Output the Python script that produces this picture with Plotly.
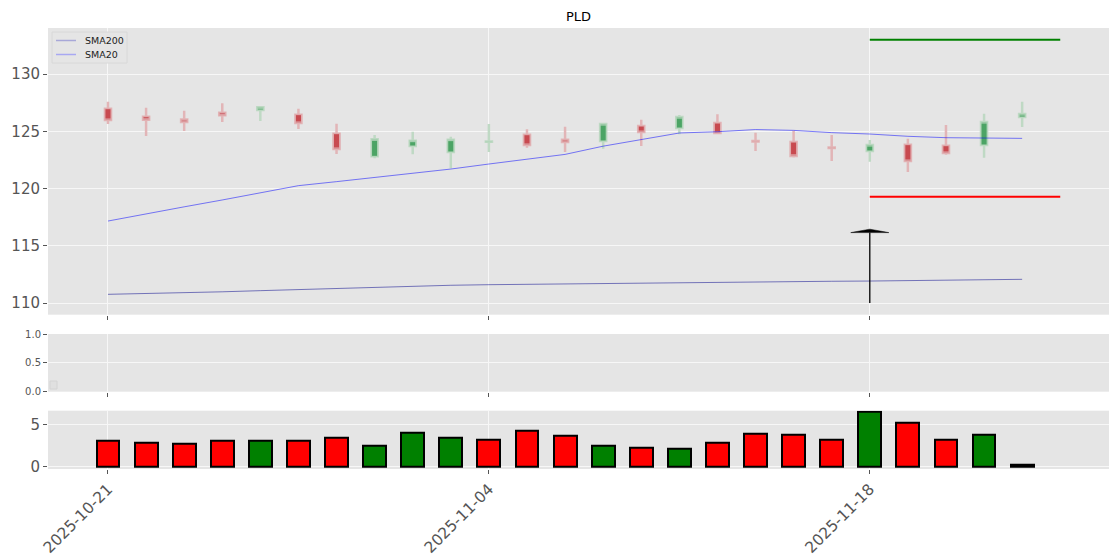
import plotly.graph_objects as go

# ---------------- data ----------------
dates = ["2025-10-21", "2025-10-22", "2025-10-23", "2025-10-24", "2025-10-27",
         "2025-10-28", "2025-10-29", "2025-10-30", "2025-10-31", "2025-11-03",
         "2025-11-04", "2025-11-05", "2025-11-06", "2025-11-07", "2025-11-10",
         "2025-11-11", "2025-11-12", "2025-11-13", "2025-11-14", "2025-11-17",
         "2025-11-18", "2025-11-19", "2025-11-20", "2025-11-21", "2025-11-24"]
opens = [126.97, 126.27, 126.02, 126.62, 126.86, 126.45, 124.79, 122.81, 123.71, 123.19,
         124.08, 124.70, 124.27, 124.15, 125.46, 125.28, 125.72, 124.14, 124.06, 123.58,
         123.28, 123.83, 123.74, 123.80, 126.24]
highs = [127.58, 127.06, 126.80, 127.44, 127.20, 126.97, 125.66, 124.67, 124.96, 124.53,
         125.63, 125.17, 125.40, 125.66, 126.01, 126.42, 126.48, 124.88, 125.05, 124.67,
         124.24, 124.35, 125.54, 126.53, 127.58]
lows = [125.63, 124.59, 125.02, 125.81, 125.90, 125.20, 123.01, 122.64, 123.00, 121.76,
        123.19, 123.57, 123.19, 123.48, 123.71, 124.73, 124.82, 123.28, 122.72, 122.40,
        122.34, 121.44, 122.95, 122.69, 125.37]
closes = [125.98, 126.00, 125.82, 126.40, 127.10, 125.72, 123.45, 124.30, 124.18, 124.27,
          124.10, 123.80, 124.07, 125.63, 124.93, 126.24, 124.85, 124.10, 122.85, 123.55,
          123.80, 122.40, 123.10, 125.81, 126.51]
sma20 = [117.16, 117.80, 118.40, 119.00, 119.65, 120.25, 120.60, 120.95, 121.30, 121.70,
         122.14, 122.55, 122.98, 123.70, 124.30, 124.85, 124.96, 125.15, 125.08, 124.88,
         124.76, 124.56, 124.44, 124.41, 124.38]
sma200 = [110.76, 110.82, 110.90, 110.98, 111.08, 111.18, 111.30, 111.40, 111.48, 111.55,
          111.60, 111.64, 111.68, 111.72, 111.75, 111.78, 111.81, 111.84, 111.87, 111.90,
          111.92, 111.96, 112.00, 112.03, 112.07]
volume_m = [3.03, 2.80, 2.68, 3.03, 3.03, 3.03, 3.40, 2.44, 4.00, 3.40,
            3.20, 4.24, 3.64, 2.44, 2.20, 2.08, 2.80, 3.88, 3.76, 3.16,
            6.50, 5.19, 3.16, 3.76, 0.20]
volume_colors = ["red", "red", "red", "red", "green", "red", "red", "green", "green", "green",
                 "red", "red", "red", "green", "red", "green", "red", "red", "red", "red",
                 "green", "red", "red", "green", "green"]
tick_positions = [0, 10, 20]
target_price = 133.0
stop_price = 119.28
level_start, level_end = 20, 25
arrow_idx, arrow_base, arrow_tip = 20, 110.0, 116.45
arrow_head_len, arrow_head_half = 0.3, 0.5
legend_names = ["SMA200", "SMA20"]
legend_colors = ["#A8A8D8", "#A8A8F2"]

idx = list(range(len(dates)))
tick_text = [dates[i] for i in tick_positions]
body_top = [max(o, c) for o, c in zip(opens, closes)]
body_bot = [min(o, c) for o, c in zip(opens, closes)]

FONT = "DejaVu Sans"
TICKC = "#555555"
BG = "#E5E5E5"
W, H = 1120, 560
ML, MR, MT, MB = 48, 11, 28, 91
PW, PH = W - ML - MR, H - MT - MB


def px_x(p):
    return (p - ML) / PW


def px_y(p):
    return (H - MB - p) / PH


fig = go.Figure()

# main panel: wicks (full OHLC, light)
fig.add_trace(go.Candlestick(
    x=idx, open=opens, high=highs, low=lows, close=closes,
    increasing=dict(line=dict(color="#BFD9C4", width=2.5), fillcolor="#4CA465"),
    decreasing=dict(line=dict(color="#E2B5B7", width=2.5), fillcolor="#C84A50"),
    whiskerwidth=0, showlegend=False, hoverinfo="skip", xaxis="x", yaxis="y"))
# bodies
fig.add_trace(go.Candlestick(
    x=idx, open=opens, high=body_top, low=body_bot, close=closes,
    increasing=dict(line=dict(color="#B5D6BC", width=1), fillcolor="#4CA465"),
    decreasing=dict(line=dict(color="#E0AEB0", width=1), fillcolor="#C84A50"),
    whiskerwidth=0, showlegend=False, xaxis="x", yaxis="y"))
fig.add_trace(go.Scatter(x=idx, y=sma200, mode="lines", name="SMA200", showlegend=False,
                         line=dict(color="rgba(0,0,139,0.5)", width=1), xaxis="x", yaxis="y"))
fig.add_trace(go.Scatter(x=idx, y=sma20, mode="lines", name="SMA20", showlegend=False,
                         line=dict(color="rgba(0,0,255,0.5)", width=1), xaxis="x", yaxis="y"))
fig.add_trace(go.Scatter(x=[level_start, level_end], y=[target_price, target_price], mode="lines",
                         line=dict(color="green", width=2), showlegend=False, xaxis="x", yaxis="y"))
fig.add_trace(go.Scatter(x=[level_start, level_end], y=[stop_price, stop_price], mode="lines",
                         line=dict(color="red", width=2), showlegend=False, xaxis="x", yaxis="y"))
head_base = arrow_tip - arrow_head_len
fig.add_trace(go.Scatter(x=[arrow_idx, arrow_idx], y=[arrow_base, head_base], mode="lines",
                         line=dict(color="black", width=1.3), showlegend=False, xaxis="x", yaxis="y"))
fig.add_trace(go.Scatter(x=[arrow_idx - arrow_head_half, arrow_idx + arrow_head_half, arrow_idx,
                            arrow_idx - arrow_head_half],
                         y=[head_base, head_base, arrow_tip, head_base], mode="lines", fill="toself",
                         fillcolor="black", line=dict(color="black", width=0.5),
                         showlegend=False, xaxis="x", yaxis="y"))

# empty middle panel
fig.add_trace(go.Scatter(x=[None], y=[None], mode="markers", showlegend=False, xaxis="x2", yaxis="y2"))

# volume panel
fig.add_trace(go.Bar(x=idx, y=volume_m, width=0.6,
                     marker=dict(color=volume_colors, line=dict(color="black", width=2)),
                     showlegend=False, xaxis="x3", yaxis="y3"))

xr = [-1.575, 26.28]
TF = 15.5
common_x = dict(range=xr, tickvals=tick_positions, ticks="outside", ticklen=4, tickcolor=TICKC,
                showgrid=True, gridcolor="#F7F7F7", gridwidth=1, zeroline=False, showline=False,
                automargin=False, tickfont=dict(family=FONT, size=TF, color=TICKC))
common_y = dict(ticks="outside", ticklen=4, tickcolor=TICKC, showgrid=True, gridcolor="#F7F7F7",
                gridwidth=1, zeroline=False, showline=False, automargin=False,
                tickfont=dict(family=FONT, size=15, color=TICKC))

# manual legend (box, line samples, labels)
shapes = [dict(type="rect", xref="paper", yref="paper", x0=px_x(52), x1=px_x(127),
               y0=px_y(63), y1=px_y(32), line=dict(color="#D8D8D8", width=1), fillcolor=BG, layer="above"),
          dict(type="rect", xref="paper", yref="paper", x0=px_x(50), x1=px_x(57), y0=px_y(389),
               y1=px_y(381), line=dict(color="#D4D4D4", width=1), fillcolor="#E0E0E0")]
annotations = []
for k, (name, col) in enumerate(zip(legend_names, legend_colors)):
    yy = 40.5 + 14 * k
    shapes.append(dict(type="line", xref="paper", yref="paper", x0=px_x(56), x1=px_x(76),
                       y0=px_y(yy), y1=px_y(yy), line=dict(color=col, width=1.5), layer="above"))
    annotations.append(dict(text=name, xref="paper", yref="paper", x=px_x(83), y=px_y(yy),
                            xanchor="left", yanchor="middle", showarrow=False,
                            font=dict(family=FONT, size=9.5, color="#222222")))

fig.update_layout(
    width=W, height=H,
    margin=dict(l=ML, r=MR, t=MT, b=MB),
    paper_bgcolor="white", plot_bgcolor=BG,
    boxgap=0.77, boxmode="overlay",
    title=dict(text="PLD", x=0.5, xref="paper", y=1 - 16 / 560, yref="container",
               xanchor="center", yanchor="middle", font=dict(family=FONT, size=13, color="black")),
    showlegend=False,
    xaxis=dict(common_x, domain=[0, 1], anchor="y", showticklabels=False,
               rangeslider=dict(visible=False), ticktext=tick_text),
    yaxis=dict(common_y, domain=[px_y(314.7), 1], anchor="x", range=[108.98, 134.02],
               tickvals=[110, 115, 120, 125, 130]),
    xaxis2=dict(common_x, domain=[0, 1], anchor="y2", showticklabels=False, ticktext=tick_text),
    yaxis2=dict(common_y, domain=[px_y(391.7), px_y(334)], anchor="x2", range=[0, 1],
                tickvals=[0, 0.5, 1], ticktext=["0.0", "0.5", "1.0"],
                tickfont=dict(family=FONT, size=10, color=TICKC)),
    xaxis3=dict(common_x, domain=[0, 1], anchor="y3", showticklabels=True, ticktext=tick_text,
                tickangle=-45),
    yaxis3=dict(common_y, domain=[0, px_y(410.7)], anchor="x3", range=[-0.32, 6.63], tickvals=[0, 5]),
    shapes=shapes,
    annotations=annotations,
    bargap=0,
)

fig.write_html("out.html", config={"displayModeBar": False},
               post_script="document.body.style.margin='0';document.body.style.overflow='hidden';")
